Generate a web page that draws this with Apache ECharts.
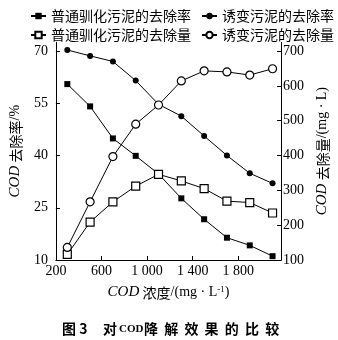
<!DOCTYPE html>
<html>
<head>
<meta charset="utf-8">
<script src="https://cdn.jsdelivr.net/npm/echarts@6/dist/echarts.min.js"></script>
<style>
  html, body { margin: 0; padding: 0; background: #fff; }
  #chart { width: 338px; height: 340px; }
</style>
</head>
<body>
<div id="chart"></div>
<script>
// COD concentration (mg/L) at each sampling point
const codConc = [300, 500, 700, 900, 1100, 1300, 1500, 1700, 1900, 2100];

// removal rate (%) — left axis
const rateNormal = [60.5, 54.1, 44.9, 39.9, 34.7, 27.7, 21.7, 16.4, 14.2, 11.1];
const rateMutant = [70.3, 68.6, 67.0, 61.5, 54.7, 51.3, 45.6, 40.0, 34.9, 32.0];

// removal amount (mg/L) — right axis
const amountNormal = [116, 209, 267, 312, 346, 327, 305, 269, 265, 235];
const amountMutant = [136, 267, 397, 490, 545, 614, 643, 640, 631, 649];

const xTicks = [200, 600, 1000, 1400, 1800];
const leftTicks = [10, 25, 40, 55, 70];
const rightTicks = [100, 200, 300, 400, 500, 600, 700];

const names = ['普通驯化污泥的去除率', '诱变污泥的去除率', '普通驯化污泥的去除量', '诱变污泥的去除量'];

const SERIF = 'Liberation Serif, DejaVu Serif, serif';
const CJK = 'Noto Sans CJK SC, sans-serif';

function pairs(xs, ys) { return xs.map((x, i) => [x, ys[i]]); }
function fmtThousand(v) {
  const s = String(v);
  return s.length > 3 ? s.slice(0, -3) + ' ' + s.slice(-3) : s;
}

const nameRich = {
  i: { fontFamily: SERIF, fontStyle: 'italic', fontSize: 15, color: '#000' },
  c: { fontFamily: CJK, fontSize: 14, color: '#000' },
  s: { fontFamily: SERIF, fontSize: 14, color: '#000' },
  sup: { fontFamily: SERIF, fontSize: 9, color: '#000', verticalAlign: 'top', padding: [0, 0, 6, 0] }
};

const axisLineStyle = { lineStyle: { color: '#000', width: 1 } };
const tickStyle = { inside: true, length: 4, lineStyle: { color: '#000', width: 1 } };
const labelStyle = { color: '#000', fontFamily: SERIF, fontSize: 14 };

function lineSeries(name, data, yIndex, symbol, size, filled, z) {
  return {
    name, type: 'line', data, yAxisIndex: yIndex,
    symbol, symbolSize: size, showSymbol: true,
    lineStyle: { color: '#000', width: 1 },
    itemStyle: filled
      ? { color: '#000', borderColor: '#000', borderWidth: 0 }
      : { color: '#fff', borderColor: '#000', borderWidth: 1.2 },
    emphasis: { disabled: true },
    animation: false,
    z
  };
}

// caption pieces laid out with wide character spacing
const captionParts = [];
const captionText = [
  { t: '图 3', x: 62, size: 14, serif: false },
  { t: '对', x: 103, size: 14, serif: false },
  { t: 'COD', x: 119, size: 11, serif: true }
];
captionText.forEach(p => captionParts.push({
  type: 'text', left: p.x, top: p.serif ? 324 : 322,
  style: { text: p.t, fill: '#000', fontSize: p.size, fontWeight: 'bold',
           fontFamily: p.serif ? SERIF : CJK }
}));
'降解效果的比较'.split('').forEach((ch, i) => captionParts.push({
  type: 'text', left: 144 + i * 20.2, top: 322,
  style: { text: ch, fill: '#000', fontSize: 14, fontWeight: 'bold', fontFamily: CJK }
}));

const legendCommon = {
  orient: 'vertical', top: 4,
  itemWidth: 15, itemHeight: 8, itemGap: 5,
  textStyle: { color: '#000', fontSize: 14, fontFamily: CJK, lineHeight: 14 },
  selectedMode: false
};

const chart = echarts.init(document.getElementById('chart'), null, { renderer: 'canvas' });
chart.setOption({
  backgroundColor: '#fff',
  animation: false,
  grid: { left: 43.5, right: 45.5, top: 42.3, bottom: 80, containLabel: false },
  legend: [
    Object.assign({ data: [names[0], names[2]], left: 25 }, legendCommon),
    Object.assign({ data: [names[1], names[3]], left: 196 }, legendCommon)
  ],
  xAxis: {
    type: 'value', min: 200, max: 2175, interval: 400,
    axisLine: axisLineStyle,
    axisTick: Object.assign({ customValues: xTicks }, tickStyle),
    axisLabel: Object.assign({ customValues: xTicks, margin: 4, formatter: fmtThousand }, labelStyle),
    splitLine: { show: false },
    name: '{i|COD} {c|浓度}{s|/(mg · L}{sup|-1}{s|)}',
    nameLocation: 'middle', nameGap: 25,
    nameTextStyle: { rich: nameRich }
  },
  yAxis: [
    {
      type: 'value', position: 'left', min: 10, max: 72.5, interval: 15,
      axisLine: Object.assign({ show: true }, axisLineStyle),
      axisTick: Object.assign({ customValues: leftTicks }, tickStyle),
      axisLabel: Object.assign({ customValues: leftTicks, margin: 8 }, labelStyle),
      splitLine: { show: false },
      name: '{i|COD} {c|去除率}{s|/%}',
      nameLocation: 'middle', nameGap: 25, nameRotate: 90,
      nameTextStyle: { rich: nameRich }
    },
    {
      type: 'value', position: 'right', min: 100, max: 725, interval: 100,
      axisLine: Object.assign({ show: true }, axisLineStyle),
      axisTick: Object.assign({ customValues: rightTicks }, tickStyle),
      axisLabel: Object.assign({ customValues: rightTicks, margin: 2 }, labelStyle),
      splitLine: { show: false },
      name: '{i|COD} {c|去除量}{s|/(mg · L)}',
      nameLocation: 'middle', nameGap: 30, nameRotate: 90,
      nameTextStyle: { rich: nameRich }
    }
  ],
  series: [
    lineSeries(names[0], pairs(codConc, rateNormal), 0, 'rect', 6, true, 2),
    lineSeries(names[1], pairs(codConc, rateMutant), 0, 'circle', 6, true, 2),
    lineSeries(names[2], pairs(codConc, amountNormal), 1, 'rect', 8, false, 3),
    lineSeries(names[3], pairs(codConc, amountMutant), 1, 'circle', 8, false, 3)
  ],
  graphic: captionParts
});
</script>
</body>
</html>
